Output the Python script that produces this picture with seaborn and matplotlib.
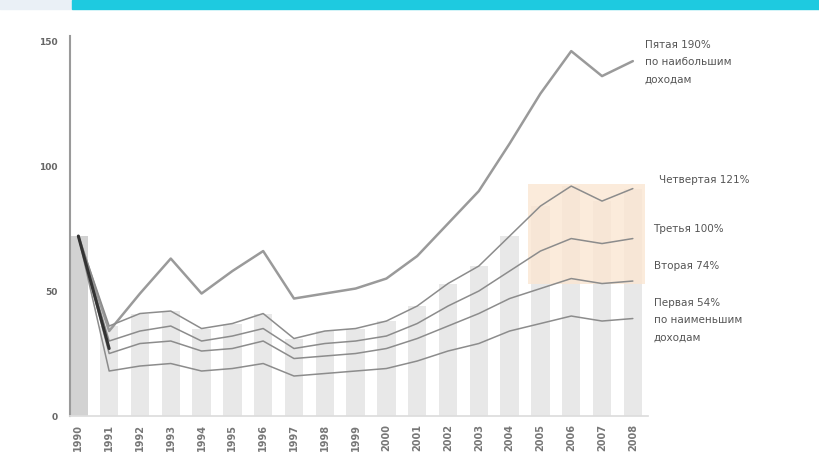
import matplotlib
matplotlib.use("Agg")
import matplotlib.pyplot as plt
import numpy as np
import pandas as pd
import seaborn as sns
from matplotlib.patches import Rectangle

# Data
years = [str(y) for y in range(1990, 2009)]
fifth = [72, 34, 49, 63, 49, 58, 66, 47, 49, 51, 55, 64, 77, 90, 109, 129, 146, 136, 142]
fourth = [72, 36, 41, 42, 35, 37, 41, 31, 34, 35, 38, 44, 53, 60, 72, 84, 92, 86, 91]
third = [72, 30, 34, 36, 30, 32, 35, 27, 29, 30, 32, 37, 44, 50, 58, 66, 71, 69, 71]
second = [72, 25, 29, 30, 26, 27, 30, 23, 24, 25, 27, 31, 36, 41, 47, 51, 55, 53, 54]
first = [72, 18, 20, 21, 18, 19, 21, 16, 17, 18, 19, 22, 26, 29, 34, 37, 40, 38, 39]
labels = ["Пятая 190%\nпо наибольшим\nдоходам", "Четвертая 121%", "Третья 100%",
          "Вторая 74%", "Первая 54%\nпо наименьшим\nдоходам"]
yticks = [0, 50, 100, 150]

sns.set_theme(style="white")
plt.rcParams['font.family'] = ['DejaVu Sans']

fig = plt.figure(figsize=(8.19, 4.69), dpi=100)
ax = fig.add_axes([0.0855, 0.113, 0.706, 0.81])

# header strip
fig.patches.append(Rectangle((0, 0.981), 0.088, 0.019, transform=fig.transFigure,
                             color="#eaf0f6", zorder=0))
fig.patches.append(Rectangle((0.088, 0.981), 0.912, 0.019, transform=fig.transFigure,
                             color="#1ecae0", zorder=0))

df = pd.DataFrame({"year": years, "v": fourth})
sns.barplot(data=df, x="year", y="v", color="#e8e8e8", width=0.6, saturation=1,
            edgecolor="none", ax=ax, zorder=1)
ax.patches[0].set_facecolor("#d2d2d2")

x = np.arange(len(years))
# highlighted area on the last years
ax.fill_between([14.6, 18.4], 53, 93, color="#fbe6d2", alpha=0.8, zorder=1.5, lw=0)

sns.lineplot(x=x, y=fifth, color="#9a9a9a", lw=1.8, ax=ax, zorder=3)
for s in [fourth, third, second, first]:
    sns.lineplot(x=x, y=s, color="#8c8c8c", lw=1.1, ax=ax, zorder=3)
ax.plot(x[:2], [fifth[0], np.mean([fourth[1], first[1]])], color="#333333", lw=2.2, zorder=4)

ax.set_xlim(-0.27, 18.5)
ax.set_ylim(0, 152)
ax.set_yticks(yticks)
ax.set_yticklabels([str(t) for t in yticks], fontsize=6.5, color="#666666", fontweight="bold")
ax.set_xticks(x)
ax.set_xticklabels(years, rotation=90, fontsize=7, color="#777777", fontweight="bold")
ax.tick_params(axis="y", length=5, color="#aaaaaa", pad=4)
ax.tick_params(axis="x", length=0, pad=6)
ax.set_xlabel("")
ax.set_ylabel("")
for side in ["top", "right"]:
    ax.spines[side].set_visible(False)
ax.spines["left"].set_color("#9a9a9a")
ax.spines["left"].set_linewidth(1.5)
ax.spines["bottom"].set_color("#dddddd")

txt = dict(transform=fig.transFigure, fontsize=7.5, color="#555555", va="top", ha="left",
           linespacing=1.9)
fig.text(0.787, 0.915, labels[0], **txt)
fig.text(0.805, 0.627, labels[1], **txt)
fig.text(0.798, 0.522, labels[2], **txt)
fig.text(0.798, 0.443, labels[3], **txt)
fig.text(0.798, 0.364, labels[4], **txt)

fig.savefig("out.png", dpi=100)
